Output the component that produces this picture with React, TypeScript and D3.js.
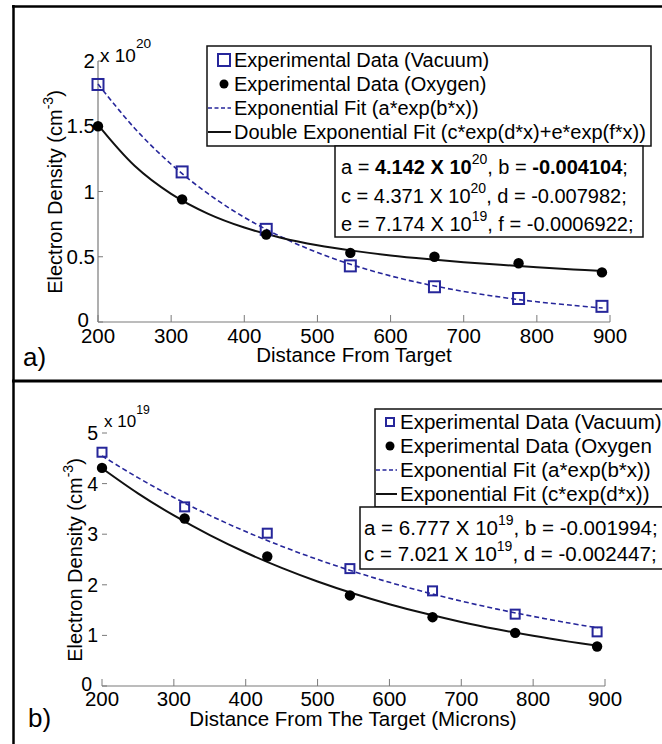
import { useEffect, useRef } from 'react';
import * as d3 from 'd3';

// distances (microns) of the measurements, same for both panels
const distances = [200, 315, 430, 545, 660, 775, 889];

// panel a) values in units of 1e20 cm^-3
const vacuumA = [1.82, 1.15, 0.71, 0.43, 0.27, 0.18, 0.12];
const oxygenA = [1.5, 0.94, 0.67, 0.53, 0.5, 0.45, 0.38];

// panel b) values in units of 1e19 cm^-3
const vacuumB = [4.62, 3.54, 3.02, 2.32, 1.88, 1.42, 1.07];
const oxygenB = [4.31, 3.31, 2.56, 1.79, 1.36, 1.05, 0.78];

// fit curves
const fitX = [200, 250, 300, 350, 400, 450, 500, 550, 600, 650, 700, 750, 800, 850, 890];
const vacuumFitA = [1.823, 1.485, 1.209, 0.985, 0.802, 0.654, 0.532, 0.434, 0.353, 0.288, 0.234, 0.191, 0.155, 0.127, 0.107];
const oxygenFitA = [1.51, 1.197, 0.982, 0.831, 0.724, 0.646, 0.588, 0.545, 0.51, 0.482, 0.458, 0.438, 0.42, 0.403, 0.391];
const vacuumFitB = [4.548, 4.117, 3.726, 3.372, 3.052, 2.763, 2.501, 2.263, 2.049, 1.854, 1.678, 1.519, 1.375, 1.244, 1.149];
const oxygenFitB = [4.304, 3.808, 3.37, 2.981, 2.638, 2.335, 2.066, 1.828, 1.617, 1.431, 1.266, 1.121, 0.991, 0.877, 0.795];

const xTicks = [200, 300, 400, 500, 600, 700, 800, 900];
const yTicksA = [0, 0.5, 1, 1.5, 2];
const yTicksB = [0, 1, 2, 3, 4, 5];

const legendA = [
  'Experimental Data (Vacuum)',
  'Experimental Data (Oxygen)',
  'Exponential Fit (a*exp(b*x))',
  'Double Exponential Fit (c*exp(d*x)+e*exp(f*x))'
];
const legendB = [
  'Experimental Data (Vacuum)',
  'Experimental Data (Oxygen',
  'Exponential Fit (a*exp(b*x))',
  'Exponential Fit (c*exp(d*x))'
];

// [name, mantissa, exponent, name2, value2]
const paramsA = [
  ['a', '4.142', '20', 'b', '-0.004104'],
  ['c', '4.371', '20', 'd', '-0.007982'],
  ['e', '7.174', '19', 'f', '-0.0006922']
];
const paramsB = [
  ['a', '6.777', '19', 'b', '-0.001994'],
  ['c', '7.021', '19', 'd', '-0.002447']
];

const BLUE = '#26269a';
const FONT = '"Liberation Sans", Arial, sans-serif';

function drawPanel(svg, cfg) {
  const g = svg.append('g');
  const x = d3.scaleLinear().domain([200, 900]).range(cfg.xRange);
  const y = d3.scaleLinear().domain(cfg.yDomain).range(cfg.yRange);

  // axes
  const axisColor = '#7a7a7a';
  g.append('line')
    .attr('x1', x(200)).attr('x2', x(900))
    .attr('y1', y(0)).attr('y2', y(0))
    .attr('stroke', axisColor).attr('stroke-width', 1.2);
  if (cfg.yAxisLine) {
    g.append('line')
      .attr('x1', x(200)).attr('x2', x(200))
      .attr('y1', y(0)).attr('y2', y(cfg.yDomain[1]))
      .attr('stroke', axisColor).attr('stroke-width', 1.2);
  }
  g.selectAll('.xtick').data(xTicks).join('line')
    .attr('x1', d => x(d)).attr('x2', d => x(d))
    .attr('y1', y(0)).attr('y2', y(0) - 7)
    .attr('stroke', axisColor).attr('stroke-width', 1);
  g.selectAll('.xlab').data(xTicks).join('text')
    .attr('x', d => x(d)).attr('y', cfg.xLabelY)
    .attr('text-anchor', 'middle')
    .attr('font-size', 20.5).attr('font-family', FONT)
    .text(d => d);
  g.selectAll('.ytick').data(cfg.yTicks).join('line')
    .attr('x1', x(200)).attr('x2', x(200) + 5)
    .attr('y1', d => y(d)).attr('y2', d => y(d))
    .attr('stroke', axisColor).attr('stroke-width', 1);
  g.selectAll('.ylab').data(cfg.yTicks).join('text')
    .attr('x', d => (d === 0 ? cfg.yLabelX - 6 : cfg.yLabelX)).attr('y', d => y(d) + (d === 0 ? 5 : 7))
    .attr('text-anchor', 'end')
    .attr('font-size', cfg.yLabelSize).attr('font-family', FONT)
    .text(d => d);

  // exponent label
  const ex = g.append('text')
    .attr('x', x(200) + 2).attr('y', cfg.expY)
    .attr('font-size', cfg.expSize).attr('font-family', FONT);
  ex.append('tspan').text('x 10');
  ex.append('tspan').attr('dy', -cfg.expSize * 0.75).attr('font-size', cfg.expSize * 0.72).text(cfg.exponent);

  // titles
  const yt = g.append('text')
    .attr('transform', `translate(${cfg.yTitle[0]},${cfg.yTitle[1]}) rotate(-90)`)
    .attr('text-anchor', 'middle')
    .attr('font-size', 20).attr('font-family', FONT);
  yt.append('tspan').text('Electron Density (cm');
  yt.append('tspan').attr('dy', -9).attr('font-size', 14).text('-3');
  yt.append('tspan').attr('dy', 9).text(')');

  g.append('text')
    .attr('x', cfg.xTitle[0]).attr('y', cfg.xTitle[1])
    .attr('text-anchor', 'middle')
    .attr('font-size', 20.5).attr('font-family', FONT)
    .text(cfg.xTitleText);

  g.append('text')
    .attr('x', cfg.panelLabel[0]).attr('y', cfg.panelLabel[1])
    .attr('font-size', 26).attr('font-family', FONT)
    .text(cfg.panelText);

  // fit lines
  const line = d3.line().x(d => x(d[0])).y(d => y(d[1])).curve(d3.curveCatmullRom);
  g.append('path')
    .attr('d', line(d3.zip(fitX, cfg.vacuumFit)))
    .attr('fill', 'none').attr('stroke', BLUE).attr('stroke-width', 1.6)
    .attr('stroke-dasharray', '5,3');
  g.append('path')
    .attr('d', line(d3.zip(fitX, cfg.oxygenFit)))
    .attr('fill', 'none').attr('stroke', '#111').attr('stroke-width', 2);

  // markers
  const s = cfg.squareSize;
  g.selectAll('.sq').data(d3.zip(distances, cfg.vacuum)).join('rect')
    .attr('x', d => x(d[0]) - s / 2).attr('y', d => y(d[1]) - s / 2)
    .attr('width', s).attr('height', s)
    .attr('fill', 'none').attr('stroke', BLUE).attr('stroke-width', 2);
  g.selectAll('.dot').data(d3.zip(distances, cfg.oxygen)).join('circle')
    .attr('cx', d => x(d[0])).attr('cy', d => y(d[1]))
    .attr('r', cfg.dotR).attr('fill', '#000');

  // legend
  const lb = cfg.legendBox;
  g.append('rect')
    .attr('x', lb.x).attr('y', lb.y).attr('width', lb.w).attr('height', lb.h)
    .attr('fill', '#fff').attr('stroke', '#111').attr('stroke-width', 1.5);
  cfg.legend.forEach((t, i) => {
    const by = lb.base + i * lb.step;
    const cy = by - 7;
    if (i === 0) {
      const ls = cfg.legendSquare;
      g.append('rect').attr('x', lb.markerX - ls / 2).attr('y', cy - ls / 2)
        .attr('width', ls).attr('height', ls)
        .attr('fill', 'none').attr('stroke', BLUE).attr('stroke-width', 2);
    } else if (i === 1) {
      g.append('circle').attr('cx', lb.markerX).attr('cy', cy).attr('r', 4.5).attr('fill', '#000');
    } else {
      g.append('line').attr('x1', lb.lineX[0]).attr('x2', lb.lineX[1])
        .attr('y1', cy).attr('y2', cy)
        .attr('stroke', i === 2 ? BLUE : '#111').attr('stroke-width', i === 2 ? 1.6 : 2)
        .attr('stroke-dasharray', i === 2 ? '4,2.5' : null);
    }
    g.append('text').attr('x', lb.textX).attr('y', by)
      .attr('font-size', lb.fontSize).attr('font-family', FONT)
      .text(t);
  });

  // parameter box
  const pb = cfg.paramBox;
  g.append('rect')
    .attr('x', pb.x).attr('y', pb.y).attr('width', pb.w).attr('height', pb.h)
    .attr('fill', '#fff').attr('stroke', '#111').attr('stroke-width', 1.5);
  cfg.params.forEach((p, i) => {
    const t = g.append('text').attr('x', pb.textX).attr('y', pb.base + i * pb.step)
      .attr('font-size', pb.fontSize).attr('font-family', FONT);
    const w = cfg.boldParams && i === 0 ? 'bold' : 'normal';
    t.append('tspan').text(`${p[0]} = `);
    t.append('tspan').attr('font-weight', w).text(`${p[1]} X 10`);
    t.append('tspan').attr('dy', -10).attr('font-size', 14).text(p[2]);
    t.append('tspan').attr('dy', 10).text(`, ${p[3]} = `);
    t.append('tspan').attr('font-weight', w).text(p[4]);
    t.append('tspan').text(';');
  });
}

export default function App() {
  const ref = useRef(null);

  useEffect(() => {
    const svg = d3.select(ref.current);
    svg.selectAll('*').remove();
    svg.append('rect').attr('width', 662).attr('height', 744).attr('fill', '#fff');

    drawPanel(svg, {
      xRange: [98, 610], yRange: [322, 61], yDomain: [0, 2], yTicks: yTicksA,
      yAxisLine: true, yLabelX: 95, yLabelSize: 20.5, xLabelY: 343,
      exponent: '20', expY: 62, expSize: 19,
      yTitle: [62, 192], xTitle: [354, 362], xTitleText: 'Distance From Target',
      panelLabel: [23, 366], panelText: 'a)',
      vacuum: vacuumA, oxygen: oxygenA, vacuumFit: vacuumFitA, oxygenFit: oxygenFitA,
      squareSize: 11, dotR: 5.2,
      legend: legendA, legendSquare: 12,
      legendBox: { x: 207, y: 46, w: 444, h: 100, base: 67, step: 24, markerX: 224, lineX: [208, 231], textX: 234, fontSize: 20 },
      params: paramsA, boldParams: true,
      paramBox: { x: 335, y: 146, w: 308, h: 91, base: 174, step: 28.5, textX: 341, fontSize: 20 }
    });

    drawPanel(svg, {
      xRange: [102, 605], yRange: [686, 433], yDomain: [0, 5], yTicks: yTicksB,
      yAxisLine: false, yLabelX: 98, yLabelSize: 19.5, xLabelY: 706,
      exponent: '19', expY: 427, expSize: 17,
      yTitle: [82, 560], xTitle: [353, 726], xTitleText: 'Distance From The Target (Microns)',
      panelLabel: [28, 727], panelText: 'b)',
      vacuum: vacuumB, oxygen: oxygenB, vacuumFit: vacuumFitB, oxygenFit: oxygenFitB,
      squareSize: 9, dotR: 5.2,
      legend: legendB, legendSquare: 8,
      legendBox: { x: 375, y: 409, w: 290, h: 98, base: 429, step: 24, markerX: 390, lineX: [376, 397], textX: 400, fontSize: 20.5 },
      params: paramsB, boldParams: false,
      paramBox: { x: 360, y: 507, w: 305, h: 62, base: 535, step: 26, textX: 364, fontSize: 20.5 }
    });

    // panel frames
    const frame = svg.append('g').attr('stroke', '#000').attr('fill', 'none');
    frame.append('line').attr('x1', 12).attr('x2', 662).attr('y1', 6.5).attr('y2', 6.5).attr('stroke-width', 2.5);
    frame.append('line').attr('x1', 13.5).attr('x2', 13.5).attr('y1', 5).attr('y2', 744).attr('stroke-width', 2.5);
    frame.append('line').attr('x1', 12).attr('x2', 662).attr('y1', 381).attr('y2', 381).attr('stroke-width', 3);
  }, []);

  return (
    <svg ref={ref} width={662} height={744} style={{ position: 'absolute', left: 0, top: 0 }} />
  );
}
